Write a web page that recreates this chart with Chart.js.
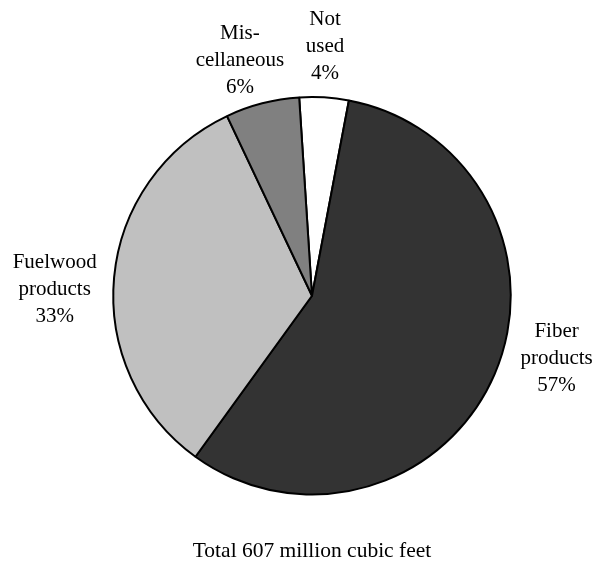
<!DOCTYPE html>
<html>
<head>
<meta charset="utf-8">
<script src="https://cdn.jsdelivr.net/npm/chart.js@4.4.0/dist/chart.umd.min.js"></script>
<style>
  html, body { margin: 0; padding: 0; background: #fff; }
  canvas { display: block; }
</style>
</head>
<body>
<canvas id="pieChart" width="608" height="562"></canvas>
<script>
// slices, clockwise from just left of 12 o'clock
const categories = [['Not', 'used'], ['Fiber', 'products'], ['Fuelwood', 'products'], ['Mis-', 'cellaneous']];
const shares = [4, 57, 33, 6];
const sliceColors = ['#ffffff', '#333333', '#c0c0c0', '#808080'];
const totalText = 'Total 607 million cubic feet';

// label placement: distance (in radii) and angle shift (deg) from slice middle
const labelPlacement = [
    { dist: 1.255, shift: -0.5 },
    { dist: 1.27, shift: -9 },
    { dist: 1.295, shift: -4 },
    { dist: 1.24, shift: -2.5 }
];

const sliceLabels = {
    id: 'sliceLabels',
    afterDatasetsDraw(chart) {
        const ctx = chart.ctx;
        const arcs = chart.getDatasetMeta(0).data;
        ctx.save();
        ctx.font = '21px "Liberation Serif", "Times New Roman", serif';
        ctx.fillStyle = '#000';
        ctx.textAlign = 'center';
        ctx.textBaseline = 'middle';
        arcs.forEach(function(arc, i) {
            const p = arc.getProps(['x', 'y', 'startAngle', 'endAngle', 'outerRadius'], true);
            const mid = (p.startAngle + p.endAngle) / 2 + labelPlacement[i].shift * Math.PI / 180;
            const d = p.outerRadius * labelPlacement[i].dist;
            const cx = p.x + Math.cos(mid) * d;
            const cy = p.y + Math.sin(mid) * d;
            const lines = categories[i].concat([shares[i] + '%']);
            const lh = 27;
            lines.forEach(function(t, k) {
                ctx.fillText(t, cx, cy + (k - (lines.length - 1) / 2) * lh);
            });
        });
        ctx.restore();
    }
};

const ctx = document.getElementById('pieChart').getContext('2d');
const pieChart = new Chart(ctx, {
    type: 'pie',
    data: {
        labels: categories.map(function(c) { return c.join(' '); }),
        datasets: [{
            data: shares,
            backgroundColor: sliceColors,
            borderColor: '#000000',
            borderWidth: 2
        }]
    },
    options: {
        responsive: false,
        animation: false,
        rotation: -3.7,
        layout: { padding: { top: 96, left: 112, right: 96, bottom: 0 } },
        plugins: {
            legend: { display: false },
            tooltip: { enabled: false },
            title: {
                display: true,
                position: 'bottom',
                text: totalText,
                color: '#000',
                font: { family: '"Liberation Serif", "Times New Roman", serif', size: 21.5, weight: 'normal', lineHeight: 1 },
                padding: { top: 45, bottom: 0 }
            }
        }
    },
    plugins: [sliceLabels]
});
</script>
</body>
</html>
